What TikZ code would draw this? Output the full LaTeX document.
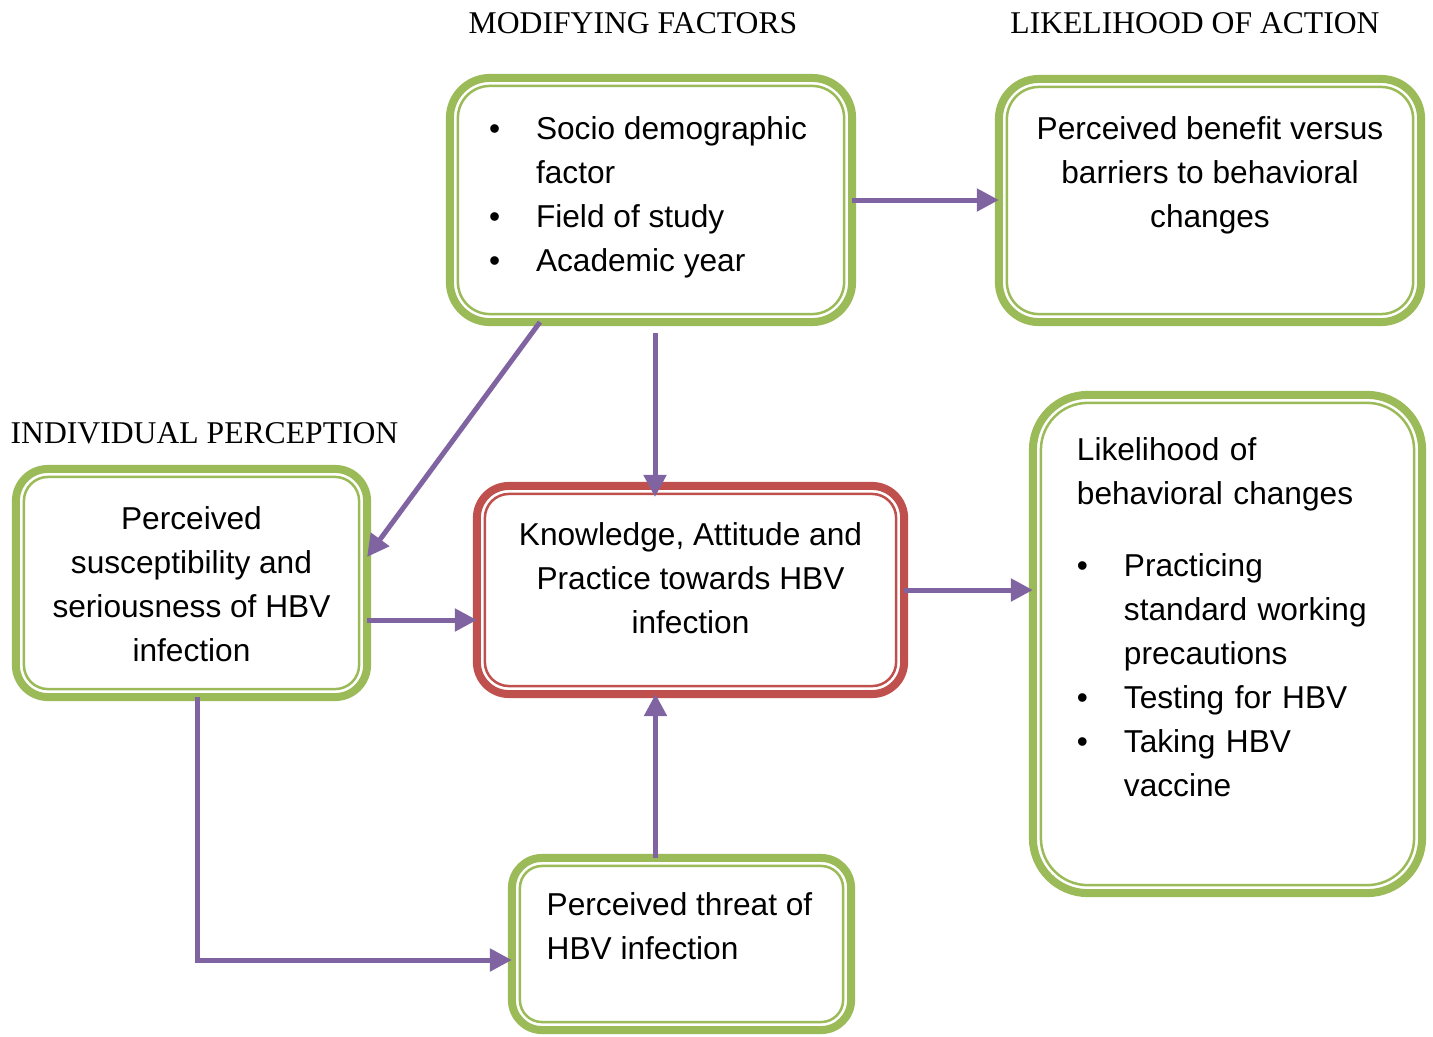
\documentclass[tikz,border=0pt]{standalone}
\usepackage{fontspec}
\setmainfont{Liberation Sans}
\newfontfamily\headfont{Liberation Serif}
\usetikzlibrary{arrows.meta}

\definecolor{boxgreen}{HTML}{9BBB59}
\definecolor{boxred}{HTML}{C0504D}
\definecolor{arrowpurple}{HTML}{8064A2}

% bullet item and its continuation line
\newcommand{\itm}[1]{\makebox[0.47cm][l]{\textbullet}#1}
\newcommand{\cnt}[1]{\hspace*{0.47cm}#1}

\begin{document}
\begin{tikzpicture}[x=0.01cm,y=-0.01cm,
    box/.style={draw=boxgreen, line width=0.08cm, rounded corners=#1, fill=white,
      outer sep=0pt, inner sep=0pt, text depth=0pt, font=\fontsize{9}{12.5}\selectfont},
    box/.default=0.4cm,
    arr/.style={draw=arrowpurple, line width=0.05cm, -{Triangle[length=0.22cm,width=0.22cm]}},
    head/.style={font=\headfont\fontsize{9}{11}\selectfont, inner sep=0pt}]
        \useasboundingbox (0,0) rectangle (1433,1036);

        % headings
        \node[head] (mfhead) at (633,23) {MODIFYING FACTORS};
        \node[head] (lahead) at (1195,23) {LIKELIHOOD OF ACTION};
        \node[head, anchor=west] (iphead) at (10,433) {INDIVIDUAL PERCEPTION};

        % boxes
        \node[box=0.4cm, minimum width=4.02cm, minimum height=2.44cm, text height=1.42cm, align=left] (mf) at (651,200)
            {\itm{Socio demographic}\hspace*{0.06cm}\\ \cnt{factor}\\ \itm{Field of study}\\ \itm{Academic year}};
        \node[box=0.4cm, minimum width=4.22cm, minimum height=2.43cm, text height=0.53cm, align=center] (la) at (1210,200.5)
            {Perceived benefit versus\\ barriers to behavioral\\ changes};
        \node[box=0.32cm, minimum width=3.51cm, minimum height=2.28cm, text height=1.56cm, align=center] (ip) at (191.5,583)
            {Perceived\\ susceptibility and\\ seriousness of HBV\\ infection};
        \node[box=0.32cm, draw=boxred, minimum width=4.27cm, minimum height=2.08cm, text height=0.86cm, align=center] (kap) at (690.5,590)
            {Knowledge, Attitude and\\ Practice towards HBV\\ infection};
        \node[box=0.55cm, minimum width=3.89cm, minimum height=4.98cm, text width=3.01cm, text height=0pt, text depth=3.66cm, align=left] (lb) at (1227.5,644)
            {Likelihood of\\ behavioral changes\\[0.28cm] \itm{Practicing}\\ \cnt{standard working}\\ \cnt{precautions}\\
             \itm{Testing for HBV}\\ \itm{Taking HBV}\\ \cnt{vaccine}};
        \node[box=0.3cm, minimum width=3.39cm, minimum height=1.72cm, text height=0.3cm, align=left] (pt) at (681.5,944)
            {Perceived threat of\hspace*{0.04cm}\\ HBV infection};

        % thin inner border
        \foreach \n/\r/\c in {mf/0.32cm/boxgreen, la/0.32cm/boxgreen, ip/0.24cm/boxgreen,
                              kap/0.24cm/boxred, lb/0.47cm/boxgreen, pt/0.22cm/boxgreen}
            \draw[\c, line width=0.025cm, rounded corners=\r]
                ([shift={(8,8)}]\n.north west) rectangle ([shift={(-8,-8)}]\n.south east);

        % arrows
        \draw[arr] (mf.east) -- (mf.east -| la.west);
        \draw[arr] ([shift={(-111,0)}]mf.south) -- ([shift={(0,-26)}]ip.east);
        \draw[arr] ([shift={(4,11)}]mf.south) -- ([shift={(4,11)}]mf.south |- kap.north);
        \draw[arr] ([shift={(0,37)}]ip.east) -- ([shift={(0,37)}]ip.east -| kap.west);
        \draw[arr] (kap.east) -- (kap.east -| lb.west);
        \draw[arr] ([shift={(-26,0)}]pt.north) -- ([shift={(-26,0)}]pt.north |- kap.south);
        \draw[arr] ([shift={(6,0)}]ip.south) |- ([shift={(0,16)}]pt.west);
\end{tikzpicture}
\end{document}
